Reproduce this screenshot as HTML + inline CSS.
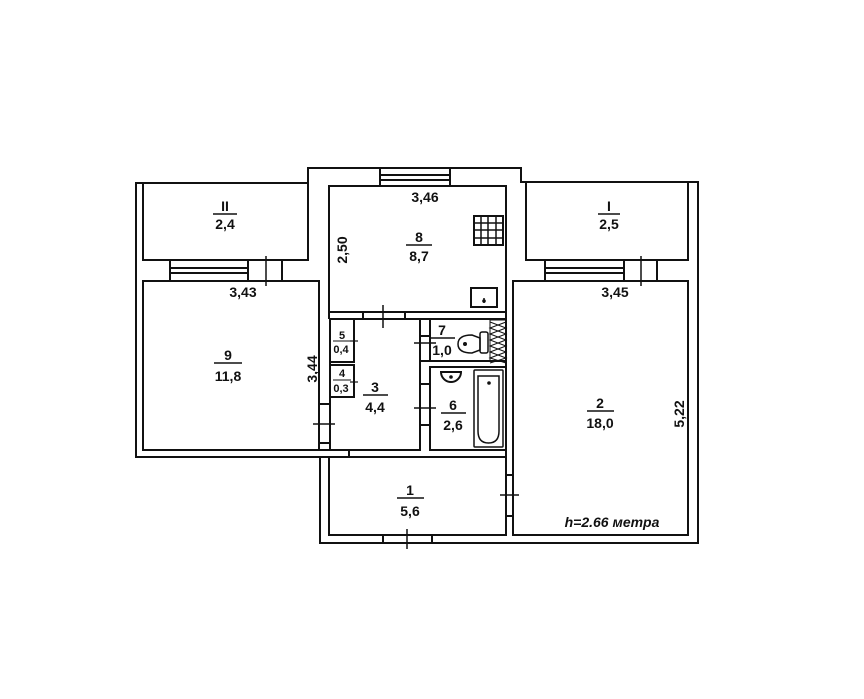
<!DOCTYPE html>
<html><head><meta charset="utf-8"><style>
html,body{margin:0;padding:0;background:#fff}
svg{display:block}
text{font-family:"Liberation Sans",sans-serif;font-weight:bold;fill:#111;text-anchor:middle}
</style></head><body>
<svg width="864" height="699" viewBox="0 0 864 699" xmlns="http://www.w3.org/2000/svg">
<g fill="none" stroke="#111" stroke-width="2">
<path d="M136,183 L308,183 L308,168 L521,168 L521,182 L698,182 L698,543 L320,543 L320,457 L136,457 Z"/>
<rect x="143" y="183" width="165" height="77"/>
<rect x="526" y="182" width="162" height="78"/>
<line x1="688" y1="182" x2="688" y2="260"/>
<rect x="170" y="260" width="112" height="21"/>
<line x1="248" y1="260" x2="248" y2="281"/>
<line x1="170" y1="268" x2="248" y2="268"/><line x1="170" y1="273" x2="248" y2="273"/>
<line x1="266" y1="256" x2="266" y2="286" stroke-width="1.5"/>
<rect x="545" y="260" width="112" height="21"/>
<line x1="624" y1="260" x2="624" y2="281"/>
<line x1="545" y1="268" x2="624" y2="268"/><line x1="545" y1="273" x2="624" y2="273"/>
<line x1="641" y1="256" x2="641" y2="286" stroke-width="1.5"/>
<rect x="380" y="168" width="70" height="18"/>
<line x1="380" y1="175" x2="450" y2="175"/><line x1="380" y1="180" x2="450" y2="180"/>
<rect x="143" y="281" width="176" height="169"/>
<rect x="329" y="186" width="177" height="126"/>
<rect x="330" y="319" width="90" height="131"/>
<rect x="330" y="319" width="24" height="43"/>
<rect x="330" y="365" width="24" height="32"/>
<rect x="430" y="319" width="76" height="42"/>
<rect x="430" y="367" width="76" height="83"/>
<rect x="329" y="457" width="177" height="78"/>
<rect x="513" y="281" width="175" height="254"/>
<line x1="329" y1="312" x2="329" y2="319"/><line x1="506" y1="312" x2="506" y2="457"/>
<line x1="363" y1="312" x2="363" y2="319"/><line x1="405" y1="312" x2="405" y2="319"/>
<line x1="383" y1="305" x2="383" y2="328" stroke-width="1.5"/>
<line x1="319" y1="404" x2="330" y2="404"/><line x1="319" y1="443" x2="330" y2="443"/>
<line x1="313" y1="424" x2="335" y2="424" stroke-width="1.5"/>
<line x1="319" y1="450" x2="349" y2="450"/><line x1="319" y1="457" x2="349" y2="457"/>
<line x1="349" y1="450" x2="349" y2="457"/>
<line x1="349" y1="450" x2="420" y2="450" stroke-dasharray="5,3"/>
<line x1="349" y1="457" x2="420" y2="457" stroke-dasharray="5,3"/>
<line x1="420" y1="319" x2="430" y2="319"/>
<line x1="420" y1="336" x2="430" y2="336"/><line x1="420" y1="361" x2="430" y2="361"/>
<line x1="414" y1="343" x2="436" y2="343" stroke-width="1.5"/>
<line x1="420" y1="384" x2="430" y2="384"/><line x1="420" y1="425" x2="430" y2="425"/>
<line x1="414" y1="408" x2="436" y2="408" stroke-width="1.5"/>
<line x1="506" y1="475" x2="513" y2="475"/><line x1="506" y1="516" x2="513" y2="516"/>
<line x1="500" y1="495" x2="519" y2="495" stroke-width="1.5"/>
<rect x="383" y="535" width="49" height="8"/>
<line x1="407" y1="529" x2="407" y2="549" stroke-width="1.5"/>
<line x1="354" y1="332" x2="354" y2="357" stroke-width="1" stroke-dasharray="2,3"/>
<line x1="350" y1="341" x2="358" y2="341" stroke-width="1.2"/>
<line x1="350" y1="382" x2="358" y2="382" stroke-width="1.2"/>
</g>
<g fill="none" stroke="#111" stroke-width="1.5">
<rect x="474" y="216" width="29" height="29" stroke-width="2"/>
<line x1="481" y1="216" x2="481" y2="245"/><line x1="488" y1="216" x2="488" y2="245"/><line x1="496" y1="216" x2="496" y2="245"/>
<line x1="474" y1="223" x2="503" y2="223"/><line x1="474" y1="230" x2="503" y2="230"/><line x1="474" y1="238" x2="503" y2="238"/>
<rect x="471" y="288" width="26" height="19" stroke-width="2"/>
<line x1="484" y1="298" x2="484" y2="303"/>
<rect x="490" y="320" width="16" height="41" stroke-width="1"/>
<path d="M490,322 l16,6 l-16,6 l16,6 l-16,6 l16,6 l-16,6 l16,5 M506,322 l-16,6 l16,6 l-16,6 l16,6 l-16,6 l16,6 l-16,5" stroke-width="1"/>
<path d="M472,335 q-14,0 -14,9 q0,9 14,9 l8,-3 l0,-12 z"/>
<rect x="480" y="332" width="8" height="21" rx="2"/>
<path d="M441,372 a10,10 0 1,0 20,0 z" stroke-width="2"/>
<rect x="474" y="370" width="29" height="77" rx="1"/>
<path d="M478,376 l21,0 l0,55 q0,12 -10.5,12 q-10.5,0 -10.5,-12 z"/>
</g>
<g fill="#111"><circle cx="484" cy="301" r="1.8"/><circle cx="465" cy="344" r="2"/><circle cx="451" cy="377" r="1.8"/><circle cx="489" cy="383" r="1.8"/></g>
<g font-size="14">
<text x="225" y="211" font-family="Liberation Serif">II</text><line x1="213" y1="214" x2="237" y2="214" stroke="#111" stroke-width="1.5"/><text x="225" y="229">2,4</text>
<text x="609" y="211" font-family="Liberation Serif">I</text><line x1="598" y1="214" x2="620" y2="214" stroke="#111" stroke-width="1.5"/><text x="609" y="229">2,5</text>
<text x="419" y="242">8</text><line x1="406" y1="245" x2="432" y2="245" stroke="#111" stroke-width="1.5"/><text x="419" y="261">8,7</text>
<text x="228" y="360">9</text><line x1="214" y1="363" x2="242" y2="363" stroke="#111" stroke-width="1.5"/><text x="228" y="381">11,8</text>
<text x="375" y="392">3</text><line x1="363" y1="395" x2="388" y2="395" stroke="#111" stroke-width="1.5"/><text x="375" y="412">4,4</text>
<text x="453" y="410">6</text><line x1="441" y1="413" x2="466" y2="413" stroke="#111" stroke-width="1.5"/><text x="453" y="430">2,6</text>
<text x="442" y="335">7</text><line x1="430" y1="338" x2="455" y2="338" stroke="#111" stroke-width="1.5"/><text x="442" y="355">1,0</text>
<text x="600" y="408">2</text><line x1="587" y1="411" x2="614" y2="411" stroke="#111" stroke-width="1.5"/><text x="600" y="428">18,0</text>
<text x="410" y="495">1</text><line x1="397" y1="498" x2="424" y2="498" stroke="#111" stroke-width="1.5"/><text x="410" y="516">5,6</text>
<text x="243" y="297">3,43</text>
<text x="425" y="202">3,46</text>
<text x="615" y="297">3,45</text>
<text transform="translate(347,250) rotate(-90)">2,50</text>
<text transform="translate(317,369) rotate(-90)">3,44</text>
<text transform="translate(684,414) rotate(-90)">5,22</text>
</g>
<g font-size="11">
<text x="342" y="339">5</text><line x1="333" y1="341" x2="351" y2="341" stroke="#111" stroke-width="1"/><text x="341" y="353">0,4</text>
<text x="342" y="377">4</text><line x1="333" y1="380" x2="351" y2="380" stroke="#111" stroke-width="1"/><text x="341" y="392">0,3</text>
</g>
<text x="612" y="527" font-size="14" font-family="Liberation Serif" font-style="italic">h=2.66 метра</text>
</svg>
</body></html>
